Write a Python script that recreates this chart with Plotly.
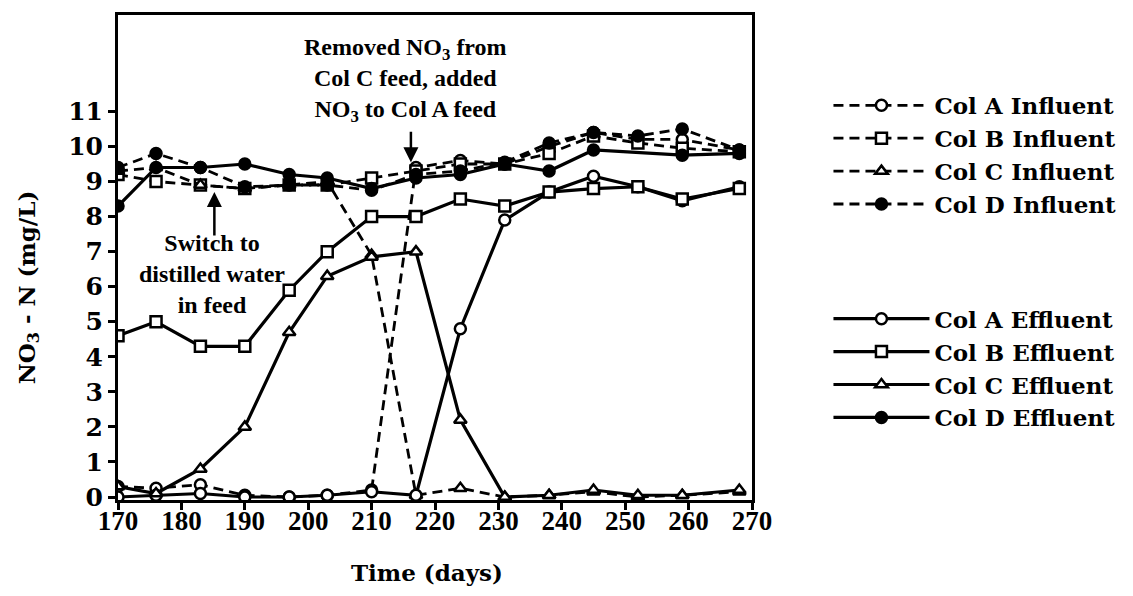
import plotly.graph_objects as go

# Sampling days
days = [170, 176, 183, 190, 197, 203, 210, 217, 224, 231, 238, 245, 252, 259, 268]

# Influent NO3-N (mg/L)
col_a_influent = [0.3, 0.25, 0.35, 0.05, 0.0, 0.05, 0.2, 9.4, 9.6, 9.5, 10.0, 10.4, 10.2, 10.2, 9.9]
col_b_influent = [9.2, 9.0, 8.9, 8.8, 8.9, 8.9, 9.1, 9.3, 9.5, 9.5, 9.8, 10.3, 10.1, 9.95, 9.85]
col_c_influent = [9.3, 9.4, 8.9, 8.8, 8.9, 9.0, 6.9, 0.05, 0.25, 0.0, 0.05, 0.15, 0.0, 0.05, 0.15]
col_d_influent = [9.4, 9.8, 9.4, 8.85, 8.9, 8.9, 8.75, 9.2, 9.3, 9.55, 10.1, 10.4, 10.3, 10.5, 9.9]

# Effluent NO3-N (mg/L)
col_a_effluent = [0.0, 0.05, 0.1, 0.0, 0.0, 0.05, 0.15, 0.05, 4.8, 7.9, 8.7, 9.15, 8.85, 8.45, 8.85]
col_b_effluent = [4.6, 5.0, 4.3, 4.3, 5.9, 7.0, 8.0, 8.0, 8.5, 8.3, 8.7, 8.8, 8.85, 8.5, 8.8]
col_c_effluent = [0.3, 0.1, 0.8, 2.0, 4.7, 6.3, 6.85, 7.0, 2.2, 0.0, 0.05, 0.2, 0.05, 0.05, 0.2]
col_d_effluent = [8.3, 9.4, 9.4, 9.5, 9.2, 9.1, 8.8, 9.1, 9.2, 9.5, 9.3, 9.9, None, 9.75, 9.8]

x_ticks = [170, 180, 190, 200, 210, 220, 230, 240, 250, 260, 270]
y_ticks = list(range(0, 12))

influent_names = ["Col A Influent", "Col B Influent", "Col C Influent", "Col D Influent"]
effluent_names = ["Col A Effluent", "Col B Effluent", "Col C Effluent", "Col D Effluent"]

INK = "black"
SERIF = "Liberation Serif"
WIDE_SERIF = "DejaVu Serif"

# symbol, fill colour for each column
marker_styles = [
    ("circle", "white"),
    ("square", "white"),
    ("triangle-up", "white"),
    ("circle", INK),
]

fig = go.Figure()

influents = [col_a_influent, col_b_influent, col_c_influent, col_d_influent]
effluents = [col_a_effluent, col_b_effluent, col_c_effluent, col_d_effluent]

for name, values, (sym, fill) in zip(influent_names, influents, marker_styles):
    fig.add_trace(go.Scatter(
        x=days, y=values, name=name, mode="lines+markers",
        line=dict(color=INK, width=2.8, dash="10px,6px"),
        marker=dict(symbol=sym, size=11, color=fill, line=dict(color=INK, width=2.5)),
        connectgaps=True, legend="legend",
    ))

for name, values, (sym, fill) in zip(effluent_names, effluents, marker_styles):
    fig.add_trace(go.Scatter(
        x=days, y=values, name=name, mode="lines+markers",
        line=dict(color=INK, width=3.2),
        marker=dict(symbol=sym, size=11, color=fill, line=dict(color=INK, width=2.5)),
        connectgaps=True, legend="legend2",
    ))

note_font = dict(family=SERIF, size=24, color=INK, weight="bold")
title_font = dict(family=WIDE_SERIF, size=23, color=INK, weight="bold")

annotations = [
    # axis titles
    dict(text="NO<sub>3</sub> - N (mg/L)", xref="paper", yref="paper",
         x=-0.142, y=0.4385, xanchor="center", yanchor="middle",
         textangle=-90, showarrow=False, font=title_font),
    dict(text="Time (days)", xref="paper", yref="paper",
         x=0.4875, y=-0.1496, xanchor="center", yanchor="middle",
         showarrow=False, font=title_font),
    # event notes
    dict(text="Removed NO<sub>3</sub> from<br>Col C feed, added<br>NO<sub>3</sub> to Col A feed",
         xref="paper", yref="paper", x=0.453, y=0.8668,
         xanchor="center", yanchor="middle", showarrow=False, font=note_font),
    dict(text="Switch to<br>distilled water<br>in feed",
         xref="paper", yref="paper", x=0.148, y=0.4652,
         xanchor="center", yanchor="middle", showarrow=False, font=note_font),
    # arrows
    dict(text="", x=216.2, y=9.55, xref="x", yref="y", ax=0, ay=-32,
         showarrow=True, arrowhead=2, arrowsize=1.2, arrowwidth=2.5, arrowcolor=INK),
    dict(text="", x=185.2, y=8.7, xref="x", yref="y", ax=0, ay=45,
         showarrow=True, arrowhead=2, arrowsize=1.2, arrowwidth=2.5, arrowcolor=INK),
]

legend_style = dict(
    xanchor="left", yanchor="top", bgcolor="rgba(0,0,0,0)",
    font=dict(family=WIDE_SERIF, size=23, color=INK, weight="bold"),
    itemwidth=96, tracegroupgap=0,
)

fig.update_layout(
    width=1133, height=596,
    margin=dict(l=118, r=375, t=12, b=96),
    paper_bgcolor="white", plot_bgcolor="white",
    showlegend=True,
    legend=dict(x=1.1206, y=0.858, **legend_style),
    legend2=dict(x=1.1206, y=0.418, **legend_style),
    annotations=annotations,
    xaxis=dict(
        range=[170, 270], tickvals=x_ticks, ticks="outside", ticklen=7, tickwidth=2.5,
        tickcolor=INK, showline=True, linecolor=INK, linewidth=3, mirror=True,
        showgrid=False, zeroline=False, ticklabelstandoff=-12,
        tickfont=dict(family=SERIF, size=27, color=INK, weight="bold"),
    ),
    yaxis=dict(
        range=[-0.085, 13.75], tickvals=y_ticks, ticks="outside", ticklen=7, tickwidth=2.5,
        tickcolor=INK, showline=True, linecolor=INK, linewidth=3, mirror=True,
        showgrid=False, zeroline=False,
        tickfont=dict(family=WIDE_SERIF, size=25, color=INK, weight="bold"),
    ),
)

fig.write_html("out.html")
